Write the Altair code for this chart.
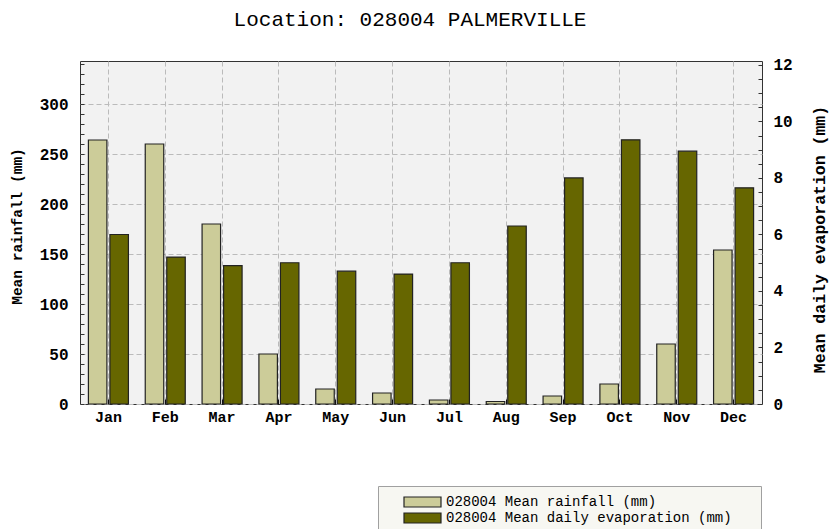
import altair as alt
import pandas as pd

months = ["Jan", "Feb", "Mar", "Apr", "May", "Jun", "Jul", "Aug", "Sep", "Oct", "Nov", "Dec"]
rainfall = [264, 260, 180, 50, 15, 11, 4, 2.5, 8, 20, 60, 154]
evaporation = [6.0, 5.2, 4.9, 5.0, 4.7, 4.6, 5.0, 6.3, 8.0, 9.35, 8.95, 7.65]
series_names = ["028004 Mean rainfall (mm)", "028004 Mean daily evaporation (mm)"]
series_colors = ["#CCCC99", "#666600"]
rain_labels = [0, 50, 100, 150, 200, 250, 300]
rain_minor = list(range(0, 341, 10))
evap_labels = [0, 2, 4, 6, 8, 10, 12]
evap_minor = [i * 0.5 for i in range(25)]

rain_df = pd.DataFrame({"month": months, "value": rainfall, "series": series_names[0]})
evap_df = pd.DataFrame({"month": months, "value": evaporation, "series": series_names[1]})

FONT = "Liberation Mono"
x_scale = alt.Scale(domain=months, paddingInner=0.296, paddingOuter=0.148)
xoff = alt.XOffset("series:N", scale=alt.Scale(domain=series_names, paddingInner=0.14, paddingOuter=0))
rain_scale = alt.Scale(domain=[0, 343], nice=False, zero=True)
evap_scale = alt.Scale(domain=[0, 12.14], nice=False, zero=True)

legend = alt.Legend(
    title=None, orient="none", legendX=298, legendY=425, direction="vertical",
    padding=9, fillColor="#F7F7F2", strokeColor="#A0A0A0",
    symbolType="M-1,-1H6.4V1H-1Z", symbolSize=100, symbolStrokeColor="#222222",
    symbolStrokeWidth=1.2, symbolOffset=15, labelOffset=30,
    labelFont=FONT, labelFontSize=14, labelColor="#000000", labelLimit=600,
    rowPadding=0, labelExpr="datum.label + '\u2800\u2800'",
)
color = alt.Color("series:N", scale=alt.Scale(domain=series_names, range=series_colors), legend=legend)

grid_kw = dict(gridColor="#BBBBBB", gridDash=[5, 3], gridWidth=1)
lab_kw = dict(labelFont=FONT, labelFontWeight="bold", labelColor="#000000")

rain_bars = alt.Chart(rain_df).mark_bar(stroke="#222222", strokeWidth=1.2).encode(
    x=alt.X("month:N", scale=x_scale, axis=alt.Axis(
        orient="bottom", title=None, ticks=False, tickSize=0, domain=False, grid=True,
        labelFontSize=15, labelPadding=5, labelAngle=0, **grid_kw, **lab_kw)),
    xOffset=xoff,
    y=alt.Y("value:Q", scale=rain_scale, axis=alt.Axis(
        orient="left", values=rain_labels, ticks=False, tickSize=0, domain=False, grid=True,
        labelFontSize=16, labelPadding=12, **grid_kw, **lab_kw,
        title="Mean rainfall (mm)", titleFont=FONT, titleFontSize=14.5, titleFontWeight="bold",
        titleColor="#000000", titleAngle=270, titleX=-62.5, titleY=165,
        titleAlign="center", titleBaseline="middle")),
    color=color,
)

evap_bars = alt.Chart(evap_df).mark_bar(stroke="#222222", strokeWidth=1.2).encode(
    x=alt.X("month:N", scale=x_scale, axis=None),
    xOffset=xoff,
    y=alt.Y("value:Q", scale=evap_scale, axis=alt.Axis(
        orient="right", values=evap_labels, ticks=False, tickSize=0, domain=False, grid=False,
        labelFontSize=16, labelPadding=11, **lab_kw,
        title="Mean daily evaporation (mm)", titleFont=FONT, titleFontSize=16.5, titleFontWeight="bold",
        titleColor="#000000", titleAngle=270, titleX=57, titleY=178,
        titleAlign="center", titleBaseline="middle")),
    color=color,
)

rain_ticks = alt.Chart(rain_df).mark_bar(opacity=0).encode(
    x=alt.X("month:N", scale=x_scale, axis=alt.Axis(
        orient="bottom", offset=-5, ticks=True, tickSize=5, tickColor="#111111",
        labels=False, domain=False, grid=False, title=None)),
    y=alt.Y("value:Q", scale=rain_scale, axis=alt.Axis(
        orient="left", offset=-4, values=rain_minor, ticks=True, tickSize=4, tickColor="#333333",
        labels=False, domain=False, grid=False, title=None)),
)

evap_ticks = alt.Chart(evap_df).mark_bar(opacity=0).encode(
    x=alt.X("month:N", scale=x_scale, axis=None),
    y=alt.Y("value:Q", scale=evap_scale, axis=alt.Axis(
        orient="right", offset=-4, values=evap_minor, ticks=True, tickSize=4, tickColor="#333333",
        labels=False, domain=False, grid=False, title=None)),
)

chart = alt.layer(rain_bars, evap_bars, rain_ticks, evap_ticks).resolve_scale(
    y="independent"
).resolve_axis(
    y="independent", x="independent"
).properties(
    width=682, height=343,
    autosize=alt.AutoSizeParams(type="none"),
    padding={"left": 72, "top": 53, "right": 68, "bottom": 125},
    background="#FFFFFF",
    title=alt.Title("Location: 028004 PALMERVILLE", font=FONT, fontSize=21, fontWeight="normal",
                    color="#000000", anchor="middle", frame="group", dx=-11, dy=24, offset=34,
                    baseline="alphabetic"),
).configure_view(fill="#F2F2F2", stroke="#333333", strokeWidth=1)

chart.save("out.html", embed_options={"renderer": "svg", "actions": False})
